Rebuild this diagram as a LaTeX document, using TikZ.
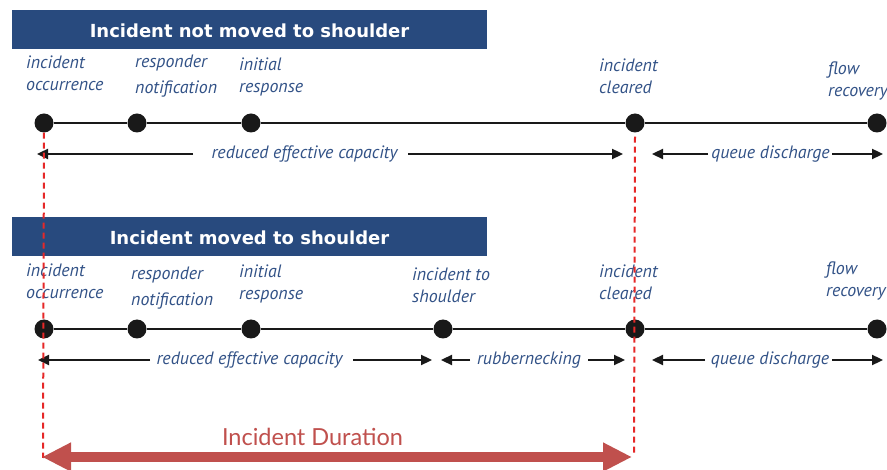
\documentclass[tikz,border=0pt]{standalone}
\usepackage{fontspec}
\usetikzlibrary{arrows.meta}
\newfontfamily\labfont{PT Sans}
\newfontfamily\titlefont{DejaVu Sans}
\newfontfamily\durfont{Lato}
\definecolor{barblue}{RGB}{40,74,126}
\definecolor{labblue}{RGB}{50,82,135}
\definecolor{durred}{RGB}{192,80,77}
\definecolor{dashred}{RGB}{230,40,40}
\newcommand\twoline[3][0pt]{\begin{tabular}[t]{@{}l@{}}#2\\[#1]#3\end{tabular}}
\begin{document}
\begin{tikzpicture}[x=1pt,y=-1pt,
  titlebar/.style={fill=barblue, text=white, minimum width=475pt, minimum height=39pt, inner sep=0pt, text height=17pt, text depth=0pt, font=\titlefont\bfseries\fontsize{18}{22}\selectfont},
  lab/.style={anchor=base west, inner sep=0pt, text=labblue, font=\labfont\itshape\fontsize{17.9}{22}\selectfont},
  spanlab/.style={anchor=base, inner sep=0pt, text=labblue, font=\labfont\itshape\fontsize{17.9}{22}\selectfont},
  dot/.style={circle, fill=black!90, minimum size=19pt, inner sep=0pt},
  tl/.style={line width=2.5pt, black!90},
  spanarr/.style={line width=2.3pt, black!90, -{Triangle[length=11pt,width=10pt]}},
  vdash/.style={dashred, line width=2pt, dash pattern=on 6pt off 4pt},
  durarr/.style={durred, line width=10pt, {Triangle[length=29pt,width=27pt]}-{Triangle[length=29pt,width=27pt]}},
]
\useasboundingbox[fill=white] (0,0) rectangle (887,470);

% ---------- Panel 1 ----------
\node[titlebar] (bar1) at (249.5,29.5) {Incident not moved to shoulder};
\node[lab] (l1a) at (26,69) {\twoline{incident}{occurrence}};
\node[lab] (l1b) at (135,68) {\twoline[4pt]{responder}{notification}};
\node[lab] (l1c) at (239,71) {\twoline{initial}{response}};
\node[lab] (l1d) at (599,72) {\twoline{incident}{cleared}};
\node[lab] (l1e) at (828,75) {\twoline{flow}{recovery}};

\node[dot] (a1) at (44,123) {};
\node[dot] (a2) at (137,123) {};
\node[dot] (a3) at (251,123) {};
\node[dot] (a4) at (635,123) {};
\node[dot] (a5) at (877,123) {};
\draw[tl] (a1) -- (a2) -- (a3) -- (a4) -- (a5);

\node[spanlab] (s1a) at (304.5,159) {reduced effective capacity};
\node[spanlab] (s1b) at (770.5,159) {queue discharge};
\coordinate (p1a) at (193,154); \coordinate (q1a) at (37,154);
\coordinate (p1b) at (408,154); \coordinate (q1b) at (623,154);
\coordinate (p1c) at (708,154); \coordinate (q1c) at (652,154);
\coordinate (p1d) at (832,154); \coordinate (q1d) at (883,154);
\draw[spanarr] (p1a) -- (q1a);
\draw[spanarr] (p1b) -- (q1b);
\draw[spanarr] (p1c) -- (q1c);
\draw[spanarr] (p1d) -- (q1d);

% ---------- Panel 2 ----------
\node[titlebar] (bar2) at (249.5,236.5) {Incident moved to shoulder};
\node[lab] (l2a) at (26,277) {\twoline{incident}{occurrence}};
\node[lab] (l2b) at (131,280) {\twoline[4pt]{responder}{notification}};
\node[lab] (l2c) at (239,278) {\twoline{initial}{response}};
\node[lab] (l2d) at (412,281) {\twoline{incident to}{shoulder}};
\node[lab] (l2e) at (599,278) {\twoline{incident}{cleared}};
\node[lab] (l2f) at (826,275) {\twoline{flow}{recovery}};

\node[dot] (b1) at (44,329) {};
\node[dot] (b2) at (137,329) {};
\node[dot] (b3) at (251,329) {};
\node[dot] (b4) at (443,329) {};
\node[dot] (b5) at (635,329) {};
\node[dot] (b6) at (877,329) {};
\draw[tl] (b1) -- (b2) -- (b3) -- (b4) -- (b5) -- (b6);

\node[spanlab] (s2a) at (249.5,365) {reduced effective capacity};
\node[spanlab] (s2b) at (529,365) {rubbernecking};
\node[spanlab] (s2c) at (770,365) {queue discharge};
\coordinate (p2a) at (150,360); \coordinate (q2a) at (38,360);
\coordinate (p2b) at (353,360); \coordinate (q2b) at (432,360);
\coordinate (p2c) at (470,360); \coordinate (q2c) at (441,360);
\coordinate (p2d) at (588,360); \coordinate (q2d) at (625,360);
\coordinate (p2e) at (705,360); \coordinate (q2e) at (652,360);
\coordinate (p2f) at (832,360); \coordinate (q2f) at (883,360);
\draw[spanarr] (p2a) -- (q2a);
\draw[spanarr] (p2b) -- (q2b);
\draw[spanarr] (p2c) -- (q2c);
\draw[spanarr] (p2d) -- (q2d);
\draw[spanarr] (p2e) -- (q2e);
\draw[spanarr] (p2f) -- (q2f);

% ---------- Duration ----------
\coordinate (e1) at (43,458);
\coordinate (e2) at (634,455);
\draw[vdash] (a1.south) -- (e1);
\draw[vdash] ([yshift=-4pt]a4.south) -- (e2);

\coordinate (d1) at (42,457);
\coordinate (d2) at (632,457);
\draw[durarr] (d1) -- (d2);
\node[anchor=base, inner sep=0pt, text=durred, font=\durfont\fontsize{23.5}{28}\selectfont] (dur) at (312.5,446) {Incident Duration};
\end{tikzpicture}
\end{document}
